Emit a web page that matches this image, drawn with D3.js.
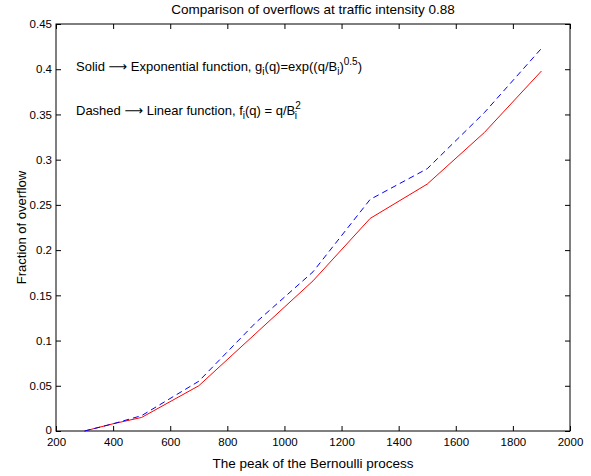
<!DOCTYPE html>
<html>
<head>
<script src="https://d3js.org/d3.v7.min.js"></script>
<style>
  body, html { margin: 0; background: #fff; }
  text { font-family: "Liberation Sans", Arial, sans-serif; fill: #000; }
  .axis path, .axis line { stroke: #000; }
  .axis text { font-size: 11.5px; font-family: "Liberation Sans", Arial, sans-serif; }
  .arrow { font-family: "DejaVu Sans", sans-serif; font-size: 13px; }
  .sub { font-size: 10px; }
</style>
</head>
<body>
<div id="chart"></div>
<script>
var peaks = [300, 400, 500, 700, 900, 1100, 1300, 1500, 1700, 1900];
var solid = [0, 0.008, 0.015, 0.05, 0.108, 0.166, 0.235, 0.273, 0.33, 0.398];
var dashed = [0, 0.008, 0.017, 0.055, 0.12, 0.176, 0.256, 0.29, 0.352, 0.423];
var xTicks = [200, 400, 600, 800, 1000, 1200, 1400, 1600, 1800, 2000];
var yTicks = [0, 0.05, 0.1, 0.15, 0.2, 0.25, 0.3, 0.35, 0.4, 0.45];

var W = 591, H = 476;
var pLeft = 56, pRight = 570, pTop = 24, pBottom = 431;

var svg = d3.select("#chart").append("svg")
  .attr("width", W).attr("height", H);

var x = d3.scaleLinear().domain([200, 2000]).range([pLeft, pRight]);
var y = d3.scaleLinear().domain([0, 0.45]).range([pBottom, pTop]);

var fmt = d => d === 0 ? "0" : String(+d.toFixed(2));

// axes with inward ticks, boxed
svg.append("g").attr("class", "axis")
  .attr("transform", "translate(0," + pBottom + ")")
  .call(d3.axisBottom(x).tickValues(xTicks).tickSize(-5).tickPadding(7).tickFormat(d3.format("d")))
  .call(g => g.select(".domain").remove());
svg.append("g").attr("class", "axis")
  .attr("transform", "translate(0," + pTop + ")")
  .call(d3.axisTop(x).tickValues(xTicks).tickSize(-5).tickFormat(""))
  .call(g => g.select(".domain").remove());
svg.append("g").attr("class", "axis")
  .attr("transform", "translate(" + pLeft + ",0)")
  .call(d3.axisLeft(y).tickValues(yTicks).tickSize(-5).tickPadding(4).tickFormat(fmt))
  .call(g => g.select(".domain").remove())
  .call(g => g.selectAll("text").filter(d => d === 0).attr("dy", "0.2em"));
svg.append("g").attr("class", "axis")
  .attr("transform", "translate(" + pRight + ",0)")
  .call(d3.axisRight(y).tickValues(yTicks).tickSize(-5).tickFormat(""))
  .call(g => g.select(".domain").remove());

svg.append("rect")
  .attr("x", pLeft).attr("y", pTop)
  .attr("width", pRight - pLeft).attr("height", pBottom - pTop)
  .attr("fill", "none").attr("stroke", "#000").attr("stroke-width", 1);

var line = d3.line().x((d, i) => x(peaks[i])).y(d => y(d));

svg.append("path").datum(solid)
  .attr("d", line).attr("fill", "none")
  .attr("stroke", "#ff0000").attr("stroke-width", 1);
svg.append("path").datum(dashed)
  .attr("d", line).attr("fill", "none")
  .attr("stroke", "#0000ff").attr("stroke-width", 1)
  .attr("stroke-dasharray", "6,4");

// titles
svg.append("text").attr("x", (pLeft + pRight) / 2).attr("y", 14)
  .attr("text-anchor", "middle").style("font-size", "13.5px")
  .text("Comparison of overflows at traffic intensity 0.88");
svg.append("text").attr("x", (pLeft + pRight) / 2).attr("y", 468)
  .attr("text-anchor", "middle").style("font-size", "13.5px")
  .text("The peak of the Bernoulli process");
svg.append("text")
  .attr("transform", "translate(26," + (pTop + pBottom) / 2 + ") rotate(-90)")
  .attr("text-anchor", "middle").style("font-size", "13px")
  .text("Fraction of overflow");

// annotations
var t1 = svg.append("text").attr("x", 76).attr("y", 71).style("font-size", "13px");
t1.append("tspan").text("Solid ");
t1.append("tspan").attr("class", "arrow").text("\u27f6");
t1.append("tspan").text(" Exponential function, g");
t1.append("tspan").attr("class", "sub").attr("dy", 4).text("i");
t1.append("tspan").attr("dy", -4).text("(q)=exp((q/B");
t1.append("tspan").attr("class", "sub").attr("dy", 4).text("i");
t1.append("tspan").attr("dy", -4).text(")");
t1.append("tspan").attr("class", "sub").attr("dy", -6).text("0.5");
t1.append("tspan").attr("dy", 6).text(")");

var t2 = svg.append("text").attr("x", 76).attr("y", 115).style("font-size", "13px");
t2.append("tspan").text("Dashed ");
t2.append("tspan").attr("class", "arrow").text("\u27f6");
t2.append("tspan").text(" Linear function, f");
t2.append("tspan").attr("class", "sub").attr("dy", 4).text("i");
t2.append("tspan").attr("dy", -4).text("(q) = q/B");
t2.append("tspan").attr("class", "sub").attr("dy", -6).text("2");
t2.append("tspan").attr("class", "sub").attr("dx", -6).attr("dy", 10).text("i");
</script>
</body>
</html>
